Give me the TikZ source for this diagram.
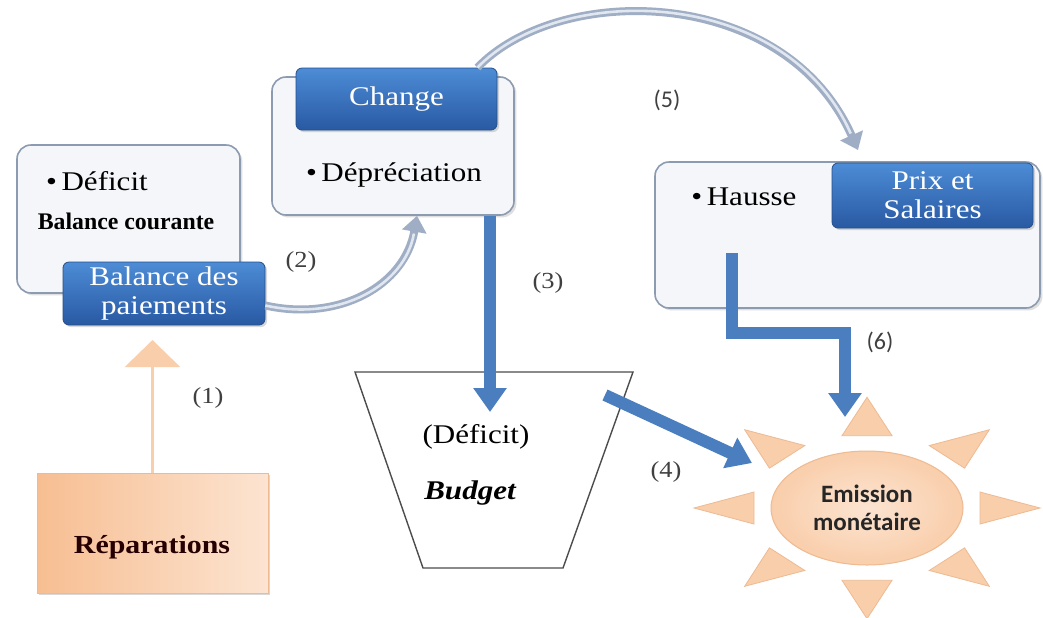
\documentclass[tikz,border=0pt]{standalone}
\usepackage{fontspec}
\setmainfont[FakeStretch=1.15]{Liberation Serif}
\newfontfamily\timesfont{Liberation Serif}
\newfontfamily\calibri{Carlito}
\usepackage{tikz}
\usetikzlibrary{arrows.meta,positioning,shadows,shapes.geometric}
\definecolor{panelfill}{HTML}{F4F6F9}
\definecolor{panelline}{HTML}{8C9BB0}
\definecolor{tagtop}{HTML}{4D8CD6}
\definecolor{tagbot}{HTML}{2959A3}
\definecolor{tagline}{HTML}{254F8A}
\definecolor{flowblue}{HTML}{4A7EBE}
\definecolor{arcgray}{HTML}{9FAEC5}
\definecolor{arclight}{HTML}{E1E7F0}
\definecolor{peach}{HTML}{F9CEAB}
\definecolor{peachdark}{HTML}{EDBA92}
\definecolor{repleft}{HTML}{F7BE92}
\definecolor{repright}{HTML}{FCE4D1}

\begin{document}
\begin{tikzpicture}[x=0.5pt,y=-0.5pt,
  panel/.style={draw=panelline, line width=0.8pt, fill=panelfill, rounded corners=7pt,
    drop shadow={shadow xshift=1.2pt,shadow yshift=-1.2pt,opacity=0.25}},
  tag/.style={draw=tagline, top color=tagtop, bottom color=tagbot, rounded corners=3pt,
    text=white, align=center, inner sep=0pt, font=\fontsize{13.5}{14.5}\selectfont,
    drop shadow={shadow xshift=1pt,shadow yshift=-1pt,opacity=0.3}},
  txt/.style={inner sep=0pt, font=\fontsize{13.5}{16}\selectfont},
  num/.style={inner sep=0pt, text=black!75, font=\fontsize{11.5}{13}\selectfont},
  flow/.style={draw=flowblue, line width=6pt, -{Triangle[width=16pt,length=12pt]}},
  link/.style={draw=arcgray, line width=4pt, -{Triangle[width=12pt,length=8pt]},
    postaction={draw=arclight, line width=1.3pt, shorten >=9pt, -}},
  ray/.style={fill=peach, draw=peachdark, line width=0.4pt}]

  \path[use as bounding box, fill=white] (0,0) rectangle (1043,617);

  % boxes
  \node[panel, minimum width=111.5pt, minimum height=74pt] (bcbox) at (128.5,219) {};
  \node[panel, minimum width=121pt, minimum height=69pt] (chgbox) at (393,146) {};
  \node[panel, minimum width=192.5pt, minimum height=73pt] (hsbox) at (847.5,235) {};

  \node[tag, minimum width=101pt, minimum height=31.5pt] (bptag) at (164,293.5) {Balance des\\paiements};
  \node[tag, minimum width=100.5pt, minimum height=31pt] (chgtag) at (396.5,99) {Change};
  \node[tag, minimum width=100.5pt, minimum height=32.5pt] (pstag) at (932.5,195.5) {Prix et\\Salaires};

  \node[txt] (deficit) at (97,181) {\textbullet\,Déficit};
  \node[txt, font={\timesfont\fontsize{11.9}{13}\selectfont\bfseries}] (bctxt) at (126,221) {Balance courante};
  \node[txt] (depr) at (394,175) {\textbullet\,Dépréciation};
  \node[txt] (hausse) at (744,197) {\textbullet\,Hausse};

  % budget
  \draw[black!70, line width=0.7pt] (355,372) -- (633,372) -- (563,568) -- (423,568) -- cycle;
  \node[txt] (bdeficit) at (476,437) {(Déficit)};
  \node[txt, font={\fontsize{13.5}{16}\selectfont\bfseries\itshape}] (budget) at (470,493) {Budget};

  % reparations
  \node[left color=repleft, right color=repright, draw=peachdark, line width=0.4pt,
    minimum width=115.5pt, minimum height=60pt,
    drop shadow={shadow xshift=1pt,shadow yshift=-1pt,opacity=0.3}] (repbox) at (152.5,533) {};
  \node[txt, text=black!85!red, font={\fontsize{13}{15}\selectfont\bfseries}] (reptxt) at (152,547) {Réparations};

  % sun
  \begin{scope}[shift={(867,508)}, yscale=0.64]
    \foreach \a in {0,45,...,315}
      \filldraw[ray, rotate=\a] (113,-25) -- (173,0) -- (113,25) -- cycle;
  \end{scope}
  \node[ellipse, inner color=repright, outer color=peach, draw=peachdark, line width=0.5pt,
    minimum width=96pt, minimum height=57pt, align=center, text=black!85,
    font={\calibri\fontsize{12.5}{14}\selectfont\bfseries}] (sun) at (867,508) {Emission\\monétaire};

  % arrows
  \coordinate (a1tip) at (152.5,340);
  \draw[draw=peach, line width=1.2pt, -{Triangle[width=27.5pt,length=13.5pt]}] (repbox.north) -- (a1tip);

  \draw[link] ([yshift=-6pt]bptag.east) .. controls (340,322) and (405,285) .. ([xshift=12pt]chgbox.south);

  \coordinate (a5tip) at (858,150);
  \draw[link] ([xshift=-10pt]chgtag.north east) .. controls (560,-18) and (785,-15) .. (a5tip);

  \coordinate (a3tip) at (490,412);
  \draw[flow] (chgbox.south -| a3tip) -- (a3tip);

  \coordinate (a4start) at (605,395);
  \coordinate (a4tip) at (752,463);
  \draw[flow] (a4start) -- (a4tip);

  \coordinate (a6start) at (732,253);
  \coordinate (a6tip) at (845,417);
  \draw[flow] (a6start) |- ++(113,80) -- (a6tip);

  % numbers
  \node[num] (n1) at (208,398) {(1)};
  \node[num] (n2) at (301,262) {(2)};
  \node[num] (n3) at (548,283) {(3)};
  \node[num] (n4) at (666,472) {(4)};
  \node[num, font={\calibri\fontsize{12}{13}\selectfont}] (n5) at (667,100) {(5)};
  \node[num, font={\calibri\fontsize{12}{13}\selectfont}] (n6) at (880,342) {(6)};
\end{tikzpicture}
\end{document}
